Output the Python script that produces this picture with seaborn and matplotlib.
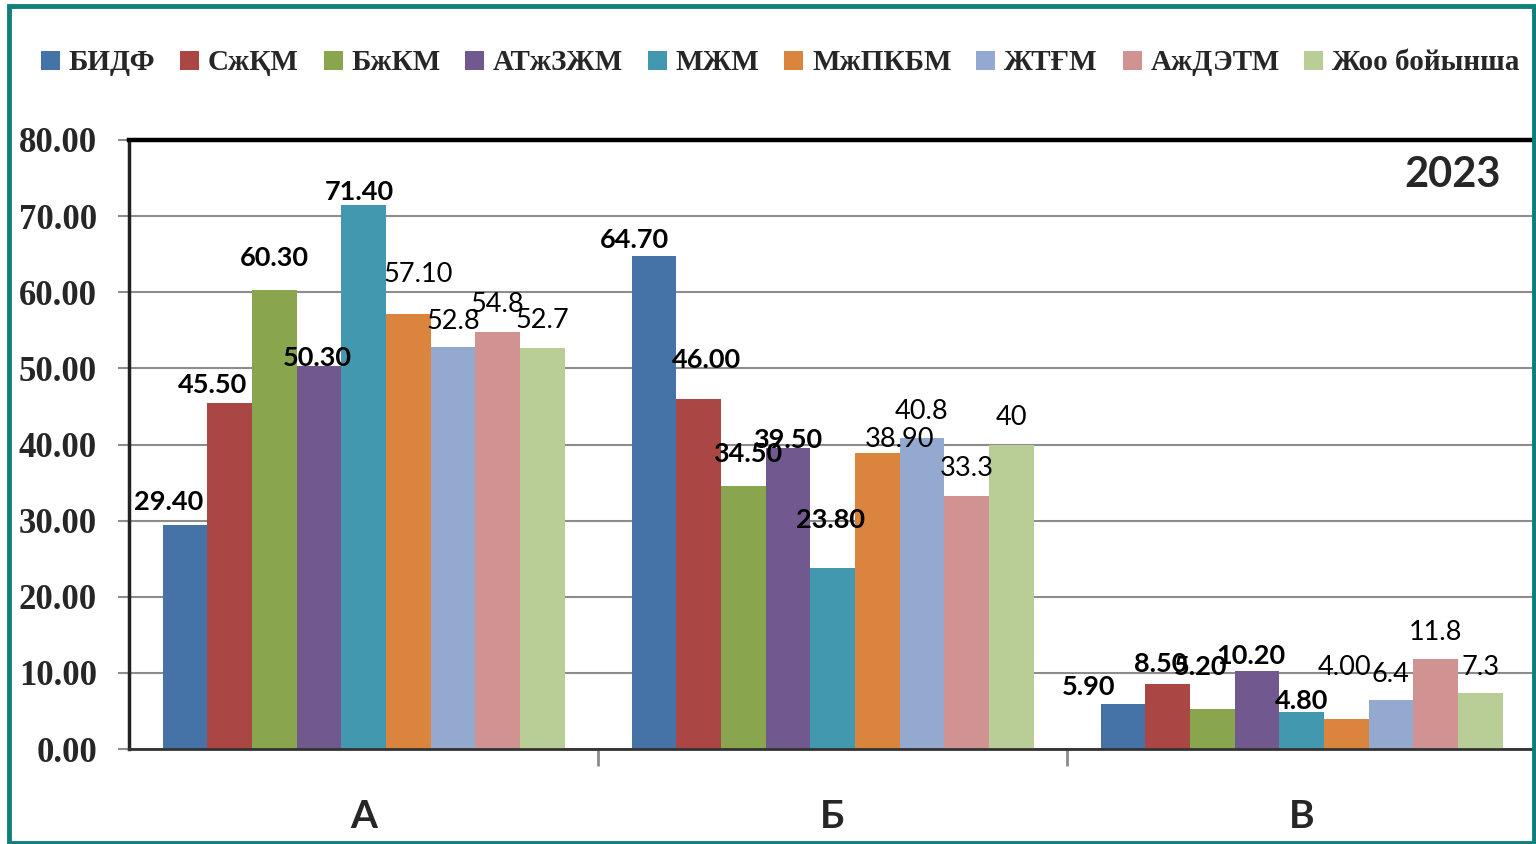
import pandas as pd
import matplotlib.pyplot as plt
import seaborn as sns
from matplotlib.patches import Rectangle

sns.set_theme(style="white")

categories = ["А", "Б", "В"]
series = ["БИДФ", "СжҚМ", "БжКМ", "АТжЗЖМ", "МЖМ", "МжПКБМ", "ЖТҒМ", "АжДЭТМ", "Жоо бойынша"]
vals_a = [29.4, 45.5, 60.3, 50.3, 71.4, 57.1, 52.8, 54.8, 52.7]
vals_b = [64.7, 46.0, 34.5, 39.5, 23.8, 38.9, 40.8, 33.3, 40.0]
vals_v = [5.9, 8.5, 5.2, 10.2, 4.8, 4.0, 6.4, 11.8, 7.3]
# label text as shown in the chart
labels_a = ["29.40", "45.50", "60.30", "50.30", "71.40", "57.10", "52.8", "54.8", "52.7"]
labels_b = ["64.70", "46.00", "34.50", "39.50", "23.80", "38.90", "40.8", "33.3", "40"]
labels_v = ["5.90", "8.50", "5.20", "10.20", "4.80", "4.00", "6.4", "11.8", "7.3"]
year = "2023"

colors = ["#4572A7", "#AA4643", "#89A54E", "#71588F", "#4198AF",
          "#DB843D", "#93A9CF", "#D19392", "#B9CD96"]
bold_series = [True, True, True, True, True, False, False, False, False]

# label nudges (pixels, dx right / dy up from bar top), as placed in the original
nudges = [
    [(-16, 23), (-17, 18), (0, 32), (-2, 8), (-4, 13), (10, 40), (0, 26), (0, 27), (0, 27)],
    [(-19, 16), (8, 39), (5, 32), (0, 8), (-2, 48), (22, 13), (0, 27), (0, 27), (0, 27)],
    [(-34, 17), (-7, 20), (-12, 42), (-6, 15), (0, 11), (-2, 51), (0, 26), (0, 27), (0, 26)],
]

rows = []
for cat, vals in zip(categories, [vals_a, vals_b, vals_v]):
    for s, v in zip(series, vals):
        rows.append({"cat": cat, "series": s, "value": v})
df = pd.DataFrame(rows)

fig = plt.figure(figsize=(15.36, 8.44), dpi=100)
ax = fig.add_axes([129 / 1536, 95 / 844, 1 - 129 / 1536, 609 / 844])

sns.barplot(data=df, x="cat", y="value", hue="series", order=categories,
            hue_order=series, palette=colors, width=9 / 10.5, ax=ax,
            saturation=1, legend=True, edgecolor="none")

ax.set_xlim(-0.5, 2.5)
ax.set_ylim(0, 80)
ax.set_yticks(range(0, 81, 10))
ax.set_yticklabels([f"{t:.2f}" for t in range(0, 81, 10)],
                   fontfamily="Liberation Serif", fontweight="bold", fontsize=25)
ax.yaxis.grid(True, color="#8c8c8c", lw=1.5)
ax.set_axisbelow(True)
ax.tick_params(axis="y", length=8, width=1.5, color="#8c8c8c", pad=15, left=True)

ax.set_xticks([0.5, 1.5], minor=False)
ax.set_xticklabels([])
ax.set_xticks([0, 1, 2], minor=True)
ax.set_xticklabels(categories, minor=True, fontfamily="Lato", fontweight="bold", fontsize=28)
ax.tick_params(axis="x", which="major", length=12, width=2, color="#8c8c8c", bottom=True, direction="out")
ax.tick_params(axis="x", which="minor", length=0, pad=36)
ax.set_xlabel("")
ax.set_ylabel("")

ax.spines["top"].set_linewidth(3.2)
ax.spines["top"].set_color("black")
ax.spines["left"].set_linewidth(2.5)
ax.spines["left"].set_color("#222222")
ax.spines["bottom"].set_linewidth(2)
ax.spines["bottom"].set_color("#333333")
ax.spines["right"].set_visible(False)

all_labels = [labels_a, labels_b, labels_v]
for si, cont in enumerate(ax.containers):
    for ci, bar in enumerate(cont):
        x = bar.get_x() + bar.get_width() / 2
        h = bar.get_height()
        dx, dy = nudges[ci][si]
        ax.annotate(all_labels[ci][si], (x, h), xytext=(dx * 0.72, dy * 0.72),
                    textcoords="offset points", ha="center", va="center",
                    fontfamily="Lato", fontsize=19.5,
                    fontweight="bold" if bold_series[si] else "normal",
                    color="black", annotation_clip=False)

ax.text(0.975, 0.9425, year, transform=ax.transAxes, ha="right", va="center",
        fontfamily="Lato", fontweight="bold", fontsize=30)

handles, labs = ax.get_legend_handles_labels()
ax.get_legend().remove()
fig.legend(handles, labs, loc="center", bbox_to_anchor=(0.508, 1 - 63 / 844), ncol=9,
           frameon=False, handlelength=0.65, handleheight=0.65, handletextpad=0.3,
           columnspacing=0.85, prop={"family": "Liberation Serif", "weight": "bold", "size": 21})

fig.patches.append(Rectangle((9 / 1536, 1 / 844), 1525 / 1536, 837 / 844,
                             transform=fig.transFigure, fill=False,
                             edgecolor="#0F7F7B", lw=3.5, zorder=10))

fig.savefig("out.png", dpi=100)
